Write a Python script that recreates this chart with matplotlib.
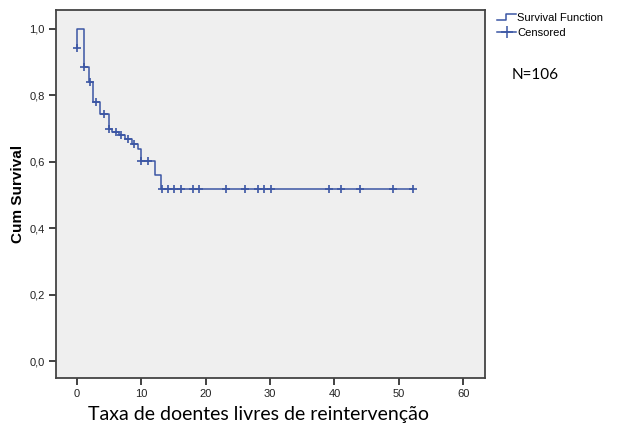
import matplotlib
matplotlib.use('Agg')
import matplotlib.pyplot as plt
from matplotlib.lines import Line2D
from matplotlib.legend_handler import HandlerBase
from matplotlib.ticker import FuncFormatter

# Kaplan-Meier step curve (months, cumulative survival)
step_t = [0, 1.1, 1.8, 2.5, 3.5, 4.9, 5.5, 6.5, 7.5, 8.5, 9.5, 10.0, 12.1, 13.0, 52.2]
step_s = [1.0, 0.884, 0.839, 0.781, 0.745, 0.700, 0.690, 0.681, 0.668, 0.655,
          0.637, 0.603, 0.560, 0.517, 0.517]
start_s = 0.943  # SPSS draws the curve starting from the first censored point at t=0

# censored cases
cens_t = [0, 1.1, 2.1, 3.0, 4.25, 5.0, 6.0, 6.9, 7.9, 8.9, 10.0, 11.1,
          13.2, 14.1, 15.1, 16.1, 18.1, 19.0, 23.2, 26.1, 28.1, 29.1, 30.1,
          39.1, 41.0, 44.0, 49.1, 52.2]
cens_s = [0.943, 0.884, 0.839, 0.781, 0.745, 0.700, 0.690, 0.681, 0.668, 0.655,
          0.603, 0.603] + [0.517] * 16

N_LABEL = 'N=106'
COLOR = '#3b56a4'


def km_path(ts, ss, s0):
    xs, ys = [ts[0]], [s0]
    for i, (t, s) in enumerate(zip(ts, ss)):
        xs.append(t)
        ys.append(s)
        if i + 1 < len(ts):
            xs.append(ts[i + 1])
            ys.append(s)
    return xs, ys


class StepHandler(HandlerBase):
    def create_artists(self, legend, orig_handle, xdescent, ydescent, width, height,
                       fontsize, trans):
        x0, y0 = -xdescent, -ydescent
        xs = [x0, x0 + 0.45 * width, x0 + 0.45 * width, x0 + width]
        ys = [y0 + 0.1 * height, y0 + 0.1 * height, y0 + 0.95 * height, y0 + 0.95 * height]
        ln = Line2D(xs, ys, color=COLOR, lw=1.1)
        ln.set_transform(trans)
        return [ln]


plt.rcParams['font.family'] = ['Liberation Sans', 'DejaVu Sans']

fig = plt.figure(figsize=(6.29, 4.32), dpi=100)
ax = fig.add_axes([56 / 629, 1 - 378 / 432, (485 - 56) / 629, (378 - 10) / 432])
ax.set_facecolor('#efefef')

xs, ys = km_path(step_t, step_s, start_s)
surv, = ax.plot(xs, ys, color=COLOR, lw=1.1)
ax.plot(cens_t, cens_s, ls='none', marker='+', ms=6, mew=1.2, color=COLOR)
cens_handle = Line2D([], [], color=COLOR, lw=1.1, marker='+', ms=8, mew=1.1)

ax.set_xlim(-3.26, 63.4)
ax.set_ylim(-0.051, 1.057)
ax.set_xticks(range(0, 61, 10))
ax.set_yticks([0, 0.2, 0.4, 0.6, 0.8, 1.0])
ax.yaxis.set_major_formatter(FuncFormatter(lambda v, p: f'{v:.1f}'.replace('.', ',')))
ax.tick_params(direction='out', length=5, width=1.3, color='#333333',
               labelsize=8, labelcolor='#222222', pad=3)
for sp in ax.spines.values():
    sp.set_color('#444444')
    sp.set_linewidth(1.3)

ax.set_ylabel('Cum Survival', fontsize=11, fontweight='bold')
ax.yaxis.set_label_coords(-0.072, 0.5)
ax.set_xlabel('Taxa de doentes livres de reintervenção', fontsize=14,
              family=['Lato', 'DejaVu Sans'])
ax.xaxis.set_label_coords(0.473, -0.075)

fig.legend([surv, cens_handle], ['Survival Function', 'Censored'],
           handler_map={surv: StepHandler()},
           loc='upper left', bbox_to_anchor=(495 / 629, 1 - 11 / 432), frameon=False,
           fontsize=8, handlelength=1.7, handletextpad=0.1, labelspacing=0.45,
           borderpad=0.2, borderaxespad=0)

fig.text(512 / 629, 1 - 75 / 432, N_LABEL, fontsize=11, family=['Lato', 'DejaVu Sans'],
         va='center', ha='left')

fig.savefig('out.png', dpi=100)
